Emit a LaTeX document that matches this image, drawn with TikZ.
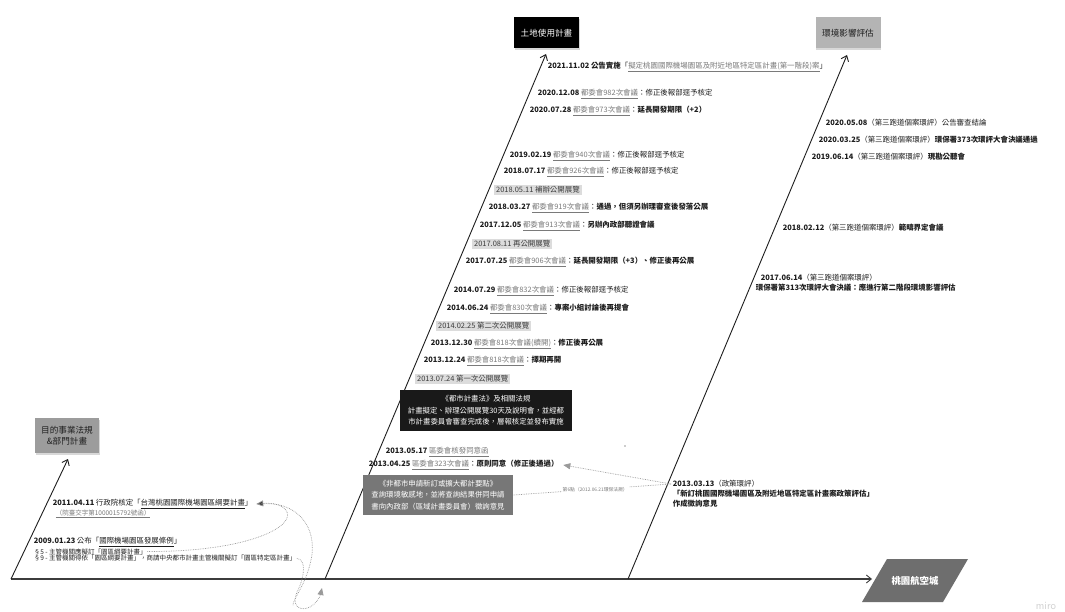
\documentclass[tikz,border=0pt]{standalone}
\usepackage{fontspec}
\setmainfont{Noto Sans CJK TC}
\usetikzlibrary{arrows.meta,shadows}

\definecolor{ink}{HTML}{1E1E1E}
\definecolor{soft}{HTML}{3C3C3C}
\definecolor{linkgray}{HTML}{7A7A7A}
\definecolor{hl}{HTML}{DCDCDC}
\definecolor{dotc}{HTML}{9A9A9A}
\definecolor{envfill}{HTML}{B4B4B4}
\definecolor{goalfill}{HTML}{9C9C9C}
\definecolor{cityfill}{HTML}{6E6E6E}
\definecolor{govfill}{HTML}{777777}

\newcommand\evfont{\fontsize{7.45}{8.6}\selectfont}
\newcommand\smfont{\fontsize{6.5}{6.8}\selectfont}
\newcommand\boxfont{\fontsize{8.6}{11}\selectfont}
\newcommand\notefont{\fontsize{7.4}{11.6}\selectfont}
\newcommand\dt[1]{\textbf{#1}}
\newcommand\lk[1]{\textcolor{linkgray}{\underline{#1}}}
\newcommand\dk[1]{\underline{#1}}

\tikzset{
  ev/.style={anchor=west, inner sep=0.6pt, text=ink, font=\evfont},
  hlev/.style={ev, fill=hl, inner xsep=2pt, inner ysep=1.4pt},
  smev/.style={ev, font=\smfont},
  mainaxis/.style={draw=ink, line width=0.9pt,
    -{Straight Barb[length=5pt,width=8pt,line width=0.9pt]}},
  topicbox/.style={minimum width=65pt, minimum height=31pt, inner sep=2pt,
    font=\boxfont, drop shadow={shadow xshift=0.6pt, shadow yshift=-2pt, opacity=0.3}},
  notebox/.style={align=center, font=\notefont, text=white, inner sep=3pt},
  dotlink/.style={draw=dotc, line width=0.7pt, densely dotted},
}

\begin{document}
\begin{tikzpicture}[x=1pt,y=-1pt]
\useasboundingbox[fill=white] (0,0) rectangle (1065,612);

% ---------- axis roots and arrow tips ----------
\coordinate (origin) at (11,579);
\coordinate (land0) at (325,579);
\coordinate (env0)  at (628,579);
\coordinate (cityL) at (872,579);
\coordinate (goalTip) at (68,459);
\coordinate (landTip) at (546,54);
\coordinate (envTip)  at (847,55);
\coordinate (landIn)  at (322,588);

% ---------- topic boxes ----------
\node[topicbox, fill=black, text=white] (landbox) at (546.5,33) {土地使用計畫};
\node[topicbox, fill=envfill, text=ink] (envbox) at (848,33) {環境影響評估};
\node[topicbox, fill=goalfill, text=ink, minimum width=64pt, minimum height=35pt,
      align=center, font=\fontsize{8.6}{11.5}\selectfont] (goalbox) at (67,435.5)
      {目的事業法規\\\&部門計畫};

% ---------- city parallelogram ----------
\fill[cityfill] (887,559) -- (968,559) -- (943,602) -- (862,602) -- cycle;
\node[text=white, font=\fontsize{9.4}{11}\selectfont\bfseries] (city) at (915,580.5) {桃園航空城};

% ---------- main axes ----------
\draw[mainaxis, draw=soft, line width=1.1pt] (origin) -- (cityL);
\draw[mainaxis] (origin) -- (goalTip);
\draw[mainaxis] (land0) -- (landTip);
\draw[mainaxis] (env0) -- (envTip);

% ---------- land-use events ----------
\node[ev] (l1)  at (547,67)  {\dt{2021.11.02} \textbf{公告實施}「\lk{擬定桃園國際機場園區及附近地區特定區計畫(第一階段)案}」};
\node[ev] (l2)  at (537,94)  {\dt{2020.12.08} \lk{都委會982次會議}：修正後報部逕予核定};
\node[ev] (l3)  at (529,111) {\dt{2020.07.28} \lk{都委會973次會議}：\textbf{延長開發期限（+2）}};
\node[ev] (l4)  at (509,156) {\dt{2019.02.19} \lk{都委會940次會議}：修正後報部逕予核定};
\node[ev] (l5)  at (503,172) {\dt{2018.07.17} \lk{都委會926次會議}：修正後報部逕予核定};
\node[hlev] (l6) at (494,190) {\textcolor{soft}{2018.05.11 補辦公開展覽}};
\node[ev] (l7)  at (488,208) {\dt{2018.03.27} \lk{都委會919次會議}：\textbf{通過，但須另辦理審查後發落公展}};
\node[ev] (l8)  at (479,226) {\dt{2017.12.05} \lk{都委會913次會議}：\textbf{另辦內政部聽證會議}};
\node[hlev] (l9) at (472,244) {\textcolor{soft}{2017.08.11 再公開展覽}};
\node[ev] (l10) at (465,262) {\dt{2017.07.25} \lk{都委會906次會議}：\textbf{延長開發期限（+3）、修正後再公展}};
\node[ev] (l11) at (453,291) {\dt{2014.07.29} \lk{都委會832次會議}：修正後報部逕予核定};
\node[ev] (l12) at (446,309) {\dt{2014.06.24} \lk{都委會830次會議}：\textbf{專案小組討論後再提會}};
\node[hlev] (l13) at (436,326) {\textcolor{soft}{2014.02.25 第二次公開展覽}};
\node[ev] (l14) at (430,344) {\dt{2013.12.30} \lk{都委會818次會議(續開)}：\textbf{修正後再公展}};
\node[ev] (l15) at (423,361) {\dt{2013.12.24} \lk{都委會818次會議}：\textbf{擇期再開}};
\node[hlev] (l16) at (415,379) {\textcolor{soft}{2013.07.24 第一次公開展覽}};

\node[notebox, fill=black!90, minimum width=172pt, minimum height=41pt] (lawbox) at (486,410.5)
  {《都市計畫法》及相關法規\\計畫擬定、辦理公開展覽30天及說明會，並經都\\市計畫委員會審查完成後，層報核定並發布實施};

\node[ev] (l17) at (385,452) {\dt{2013.05.17} \lk{區委會核發同意函}};
\node[ev] (l18) at (368,465) {\dt{2013.04.25} \lk{區委會323次會議}：\textbf{原則同意（修正後通過）}};

\node[notebox, fill=govfill, minimum width=150pt, minimum height=40pt] (govbox) at (438,495)
  {《非都市申請新訂或擴大都計要點》\\查詢環境敏感地，並將查詢結果併同申請\\書向內政部（區域計畫委員會）徵詢意見};

% ---------- environmental assessment events ----------
\node[ev] (e1) at (825,123) {\dt{2020.05.08}（第三跑道個案環評）公告審查結論};
\node[ev] (e2) at (818,140) {\dt{2020.03.25}（第三跑道個案環評）\textbf{環保署373次環評大會決議通過}};
\node[ev] (e3) at (811,157) {\dt{2019.06.14}（第三跑道個案環評）\textbf{現勘公聽會}};
\node[ev] (e4) at (782,228) {\dt{2018.02.12}（第三跑道個案環評）\textbf{範疇界定會議}};
\node[ev] (e5a) at (760,278) {\dt{2017.06.14}（第三跑道個案環評）};
\node[ev] (e5b) at (755,287.5) {\textbf{環保署第313次環評大會決議：應進行第二階段環境影響評估}};
\node[ev] (e6a) at (672,484) {\dt{2013.03.13}（政策環評）};
\node[ev] (e6b) at (672,494) {\textbf{「新訂桃園國際機場園區及附近地區特定區計畫案政策評估」}};
\node[ev] (e6c) at (672,504) {\textbf{作成徵詢意見}};

% ---------- sectoral-plan events ----------
\node[ev] (p1)  at (52,504) {\dt{2011.04.11} 行政院核定「\dk{台灣桃園國際機場園區綱要計畫}」};
\node[smev] (p1b) at (55,514) {\lk{（院臺交字第1000015792號函）}};
\node[ev] (p2)  at (33,542) {\dt{2009.01.23} 公布「\dk{國際機場園區發展條例}」};
\node[smev] (p3) at (33,551.5) {§5 - 主管機關應擬訂「園區綱要計畫」};
\node[smev] (p4) at (33,558.5) {§9 - 主管機關得依「園區綱要計畫」，商請中央都市計畫主管機關擬訂「園區特定區計畫」};

% ---------- dotted cross references ----------
\coordinate (e6w) at ([xshift=-1pt]e6a.west);
\draw[dotlink, -{Triangle[length=7pt,width=6pt,fill=dotc]}] (e6w) -- ([xshift=4pt]l18.east);
\draw[dotlink] (e6w) -- node[fill=white, inner sep=1pt, text=linkgray,
   font=\fontsize{4.8}{5}\selectfont, pos=0.48] (rule6) {第6點（2012.06.21環保法規）} (govbox.east);

\draw[dotlink, -{Triangle[length=7pt,width=6pt,fill=soft]}]
  (p3.east) .. controls (250,552) and (300,525) .. (285,509)
            .. controls (279,503) and (268,503) .. ([xshift=3pt]p1.east);
\draw[dotlink]
  ([xshift=6pt]p1.east) .. controls (298,500) and (318,528) .. (311,560)
            .. controls (306,585) and (292,600) .. (293,606);
\draw[dotlink, -{Triangle[length=7pt,width=6pt,fill=dotc]}]
  (p4.east) .. controls (306,559) and (305,575) .. (298,590)
            .. controls (290,606) and (300,612) .. (310,607)
            .. controls (316,604) and (320,597) .. (landIn);

% ---------- small marks ----------
\fill[dotc] (625,446) circle (0.9pt);
\node[text=black!18, font=\fontsize{11}{11}\sffamily, anchor=base] (mark) at (1046,609) {miro};
\end{tikzpicture}
\end{document}
